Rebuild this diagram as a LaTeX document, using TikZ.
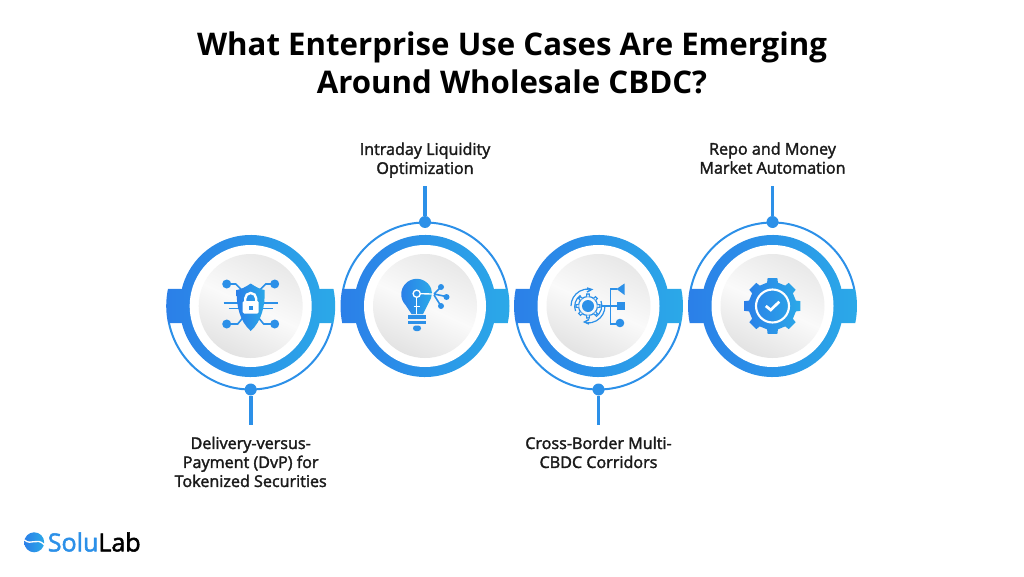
\documentclass[tikz,border=0pt]{standalone}
\usepackage{fontspec}
\setmainfont{Open Sans}
\newfontfamily\semifont[FakeBold=2]{Open Sans}
\usetikzlibrary{positioning}
\definecolor{hubleft}{HTML}{2B7FE8}
\definecolor{hubright}{HTML}{2BA9E8}
\definecolor{hubmid}{HTML}{2C90E8}
\definecolor{labelink}{HTML}{1A1A1A}
\tikzset{
  hubdot/.style={circle,fill=hubmid,inner sep=0pt,minimum size=9pt},
  stem/.style={hubmid,line width=2.8pt},
  thinarc/.style={hubmid,line width=1.5pt},
  hublabel/.style={align=center,text=labelink,font=\fontsize{12.1}{14.25}\selectfont\semifont},
  iconfill/.style={left color=hubleft,right color=hubright},
  iconline/.style={hubmid,line width=1.2pt}
}
\begin{document}
\begin{tikzpicture}[x=.75pt,y=.75pt]
\useasboundingbox (0,0) rectangle (1024,576);

\def\hubring#1#2{ % #1 Center x, #2 Start angle of the thin arc
\begin{scope}[shift={(#1,270)}]
\draw[thinarc] (#2:83.5) arc[start angle=#2,delta angle=156.6,radius=83.5];
\shade[left color=hubleft,right color=hubright] (13.85:71) arc[start angle=13.85,end angle=166.15,radius=71] -- (168.3:84.5) arc[start angle=168.3,end angle=191.7,radius=84.5] -- (193.85:71) arc[start angle=193.85,end angle=346.15,radius=71] -- (348.3:84.5) arc[start angle=348.3,end angle=371.7,radius=84.5] -- cycle;
\fill[white] (0,0) circle[radius=61];
\shade[left color=black!9,right color=black!11,middle color=black!2,shading angle=-25] (0,0) circle[radius=52];
\end{scope}
}

%title
\node[font=\fontsize{23.4}{28.5}\selectfont\bfseries,align=center,text=black] (title) at (512,513) {What Enterprise Use Cases Are Emerging\\Around Wholesale CBDC?};

%set of the hubs
\hubring{250.7}{191.7}
\hubring{425}{11.7}
\hubring{598.5}{191.7}
\hubring{772.5}{11.7}

%connectors and labels
\node[hubdot] (dotA) at (250.7,186.5) {};
\node[hubdot] (dotB) at (425,354) {};
\node[hubdot] (dotC) at (598.5,186.5) {};
\node[hubdot] (dotD) at (772.5,354) {};
\coordinate (endA) at (250.7,151.5);
\coordinate (endB) at (425,390);
\coordinate (endC) at (598.5,151.5);
\coordinate (endD) at (772.5,390);
\draw[stem] (dotA) -- (endA);
\draw[stem] (dotB) -- (endB);
\draw[stem] (dotC) -- (endC);
\draw[stem] (dotD) -- (endD);
\node[hublabel,anchor=north] (labelA) at (250.7,144) {Delivery-versus-\\Payment (DvP) for\\Tokenized Securities};
\node[hublabel,anchor=south] (labelB) at (425,393.5) {Intraday Liquidity\\Optimization};
\node[hublabel,anchor=north] (labelC) at (598.5,144) {Cross-Border Multi-\\CBDC Corridors};
\node[hublabel,anchor=south] (labelD) at (772.5,397.5) {Repo and Money\\Market Automation};

%shield icon
\begin{scope}[shift={(250.7,270)}]
\draw[iconline] (-24,22) -- (-15,22) -- (-9,16);
\draw[iconline] (24,22) -- (15,22) -- (9,16);
\draw[iconline] (-24,-18) -- (-13,-18) -- (-8,-12);
\draw[iconline] (24,-18) -- (13,-18) -- (8,-12);
\draw[iconline] (-27,3) -- (-12,3) (-22,-2.5) -- (-12,-2.5);
\draw[iconline] (27,3) -- (12,3) (22,-2.5) -- (12,-2.5);
\foreach \px/\py in {-24/22,24/22,-24/-18,24/-18}
  \fill[hubmid] (\px,\py) circle[radius=4.5];
\shade[iconfill] (0,22.5) .. controls (5,19) and (10,16.5) .. (14,16) .. controls (14.5,0) and (11,-15) .. (0,-25) .. controls (-11,-15) and (-14.5,0) .. (-14,16) .. controls (-10,16.5) and (-5,19) .. (0,22.5) -- cycle;
\draw[white,line width=1.8pt] (-5.5,4) -- (-5.5,7.5) arc[start angle=180,end angle=0,radius=5.5] -- (5.5,4);
\fill[white,rounded corners=1pt] (-8,-7.5) rectangle (8,5);
\fill[hubmid] (-2,-3.5) rectangle (2,.5);
\end{scope}

%bulb icon
\begin{scope}[shift={(425,270)}]
\shade[iconfill] (6.07,17.5) arc[start angle=22,end angle=225,radius=15.5] -- (-13.5,-8) -- (-2,-8) -- (6,8) -- (7,13) -- cycle;
\draw[white,line width=1pt] (-8.3,12.3) -- (9,12);
\draw[white,line width=1pt] (-8.3,9) -- (-8.3,-7.5) (-11.5,-.5) -- (-5,-.5);
\draw[white,line width=1pt,fill=hubmid] (-8.3,12.3) circle[radius=3.6];
\draw[iconline] (9,12) -- (16,19) (9,12) -- (21,9.5) (9,11) -- (16,0);
\foreach \px/\py in {16/19,21.5/9,16/0}
  \fill[hubmid] (\px,\py) circle[radius=3];
\fill[hubmid] (-17,-9) rectangle (1,-12.5);
\fill[hubmid] (-17,-14.5) rectangle (1,-17.5);
\fill[hubmid,rounded corners=2pt] (-12,-19.5) rectangle (-4,-25);
\end{scope}

%gear and branches icon
\begin{scope}[shift={(598.5,270)}]
\draw[iconline,line width=.9pt] (-10.5,0) circle[radius=9.5];
\foreach \a in {0,45,...,315}
  \draw[iconline,line width=.9pt,fill=black!4] ([shift={(-10.5,0)}]\a-9:9.5) -- ([shift={(-10.5,0)}]\a-6:12) -- ([shift={(-10.5,0)}]\a+6:12) -- ([shift={(-10.5,0)}]\a+9:9.5);
\fill[hubmid] (-10.5,0) circle[radius=6];
\draw[iconline,line width=.9pt] (-27.5,0) arc[start angle=180,end angle=85,radius=17] (-23,-5) arc[start angle=200,end angle=125,radius=13.5];
\draw[iconline,line width=.9pt] (6.5,0) arc[start angle=0,end angle=-95,radius=17] (2.5,5) arc[start angle=20,end angle=-55,radius=13.5];
\draw[iconline,line width=1.1pt] (-11.5,18) -- (-7,16.5) -- (-11.5,14);
\draw[iconline,line width=1.1pt] (-9.5,-18) -- (-14,-16) -- (-9.5,-13.5);
\draw[iconline] (3,0) -- (18,0);
\draw[iconline] (18,17) -- (12,17) -- (12,-18) -- (18,-18);
\fill[hubmid] (18,17) -- (26,22.5) -- (26,11) -- cycle;
\fill[hubmid] (18,-4) rectangle (26,4);
\fill[hubmid] (21.5,-17) circle[radius=4.3];
\end{scope}

%gear icon
\begin{scope}[shift={(772.5,270)}]
\shade[iconfill] (-13:24) \foreach \a in {0,45,...,315}{ -- ({\a-13}:24) -- ({\a-10}:28.2) -- ({\a+10}:28.2) -- ({\a+13}:24)} -- cycle;
\draw[white,line width=1.6pt] (0,0) circle[radius=16.5];
\draw[white,line width=2pt] (-6.7,0) -- (-1.7,-4) -- (6.7,4.3);
\end{scope}

%logo
\shade[iconfill] (34.2,33.7) circle[radius=10];
\draw[white,line width=1pt] (24.5,36) .. controls (31,30) and (37,39) .. (44,31.5);
\node[anchor=west,inner sep=0pt,font=\fontsize{18.8}{20}\selectfont\semifont] (logo) at (47.5,34) {\textcolor{hubmid}{Solu}\textcolor{black}{Lab}};
\end{tikzpicture}
\end{document}
